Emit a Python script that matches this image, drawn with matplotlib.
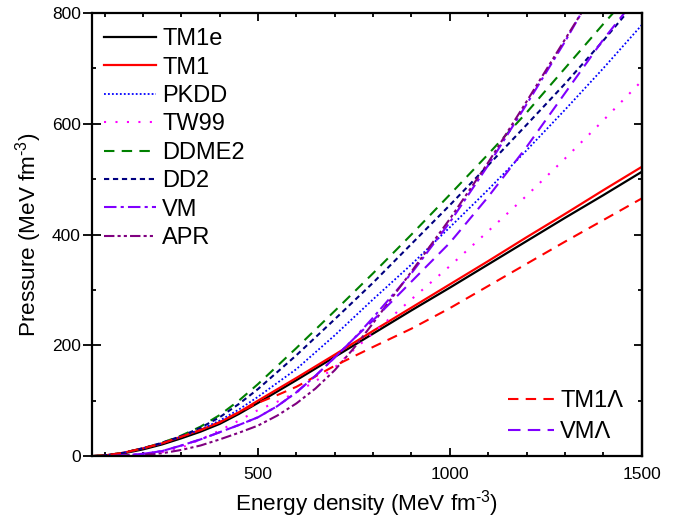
import matplotlib
matplotlib.use("Agg")
import matplotlib.pyplot as plt
from matplotlib.ticker import MultipleLocator

plt.rcParams['font.family'] = ['Liberation Sans', 'DejaVu Sans']
plt.rcParams['mathtext.fontset'] = 'custom'
plt.rcParams['mathtext.rm'] = 'Liberation Sans'
plt.rcParams['mathtext.it'] = 'Liberation Sans:italic'
plt.rcParams['mathtext.bf'] = 'Liberation Sans:bold'

# ---- data ----
tm1e_e = [70, 100, 150, 200, 250, 300, 350, 400, 450, 500, 600, 700, 800, 900, 1000, 1100, 1200, 1300, 1400, 1500]
tm1e_p = [0, 1, 5, 12, 21, 32, 44, 58, 76, 96, 137, 179, 221, 263, 304, 346, 388, 430, 471, 513]

tm1_e = [70, 100, 150, 200, 250, 300, 350, 400, 450, 500, 600, 700, 800, 900, 1000, 1100, 1200, 1300, 1400, 1500]
tm1_p = [0, 1, 6, 14, 23, 35, 47, 61, 79, 100, 141, 183, 226, 268, 310, 352, 395, 437, 480, 522]

pkdd_e = [70, 100, 150, 200, 250, 300, 350, 400, 450, 500, 600, 700, 800, 900, 1000, 1100, 1200, 1300, 1400, 1500]
pkdd_p = [0, 1, 6, 14, 23, 35, 48, 64, 84, 107, 157, 218, 283, 346, 413, 481, 552, 625, 700, 778]

tw99_e = [70, 100, 150, 200, 250, 300, 350, 400, 450, 500, 550, 600, 650, 700, 750, 800, 900, 1000, 1100, 1200, 1300, 1400, 1500]
tw99_p = [0, 0, 1, 3, 7, 15, 30, 46, 64, 83, 98, 115, 135, 160, 192, 222, 283, 343, 406, 470, 537, 606, 677]

ddme2_e = [70, 100, 150, 200, 250, 300, 350, 400, 450, 500, 600, 700, 800, 900, 1000, 1100, 1200, 1300, 1400, 1426]
ddme2_p = [0, 1, 6, 14, 24, 37, 53, 74, 100, 130, 195, 262, 330, 400, 472, 545, 620, 700, 780, 800]

dd2_e = [70, 100, 150, 200, 250, 300, 350, 400, 450, 500, 600, 700, 800, 900, 1000, 1100, 1200, 1300, 1400, 1461]
dd2_p = [0, 1, 6, 14, 24, 36, 51, 70, 94, 121, 182, 247, 313, 383, 453, 525, 598, 672, 750, 800]

vm_e = [70, 100, 150, 200, 250, 300, 350, 400, 450, 500, 550, 600, 650, 700, 750, 800, 900, 1000, 1100, 1200, 1300, 1343]
vm_p = [0, 0, 1, 4, 9, 19, 30, 43, 56, 70, 90, 115, 145, 178, 212, 250, 330, 422, 525, 635, 748, 800]

apr_e = [70, 100, 150, 200, 250, 300, 350, 400, 450, 500, 550, 600, 650, 700, 750, 800, 900, 1000, 1100, 1200, 1300, 1343]
apr_p = [0, 0, 1, 2, 5, 11, 19, 30, 42, 55, 73, 95, 122, 155, 195, 240, 333, 428, 530, 640, 752, 800]

tm1l_e = [70, 100, 150, 200, 250, 300, 350, 400, 450, 500, 550, 600, 700, 800, 900, 1000, 1100, 1200, 1300, 1400, 1500]
tm1l_p = [0, 1, 6, 14, 23, 35, 47, 61, 79, 96, 110, 125, 163, 197, 230, 267, 307, 347, 387, 426, 465]

vml_e = [70, 100, 150, 200, 250, 300, 350, 400, 450, 500, 550, 600, 650, 700, 750, 800, 900, 1000, 1100, 1200, 1300, 1400, 1455]
vml_p = [0, 0, 1, 4, 9, 19, 30, 43, 56, 70, 90, 115, 145, 178, 212, 245, 315, 385, 468, 558, 655, 752, 800]

x_ticks = [500, 1000, 1500]
y_ticks = [0, 200, 400, 600, 800]

fig = plt.figure(figsize=(6.94, 5.20), dpi=100)
ax = fig.add_axes([0.133, 0.123, 0.7915, 0.852])

l1, = ax.plot(tm1e_e, tm1e_p, color='black', lw=1.6, ls='-', label='TM1e')
l2, = ax.plot(tm1_e, tm1_p, color='#ff0000', lw=1.6, ls='-', label='TM1')
l3, = ax.plot(pkdd_e, pkdd_p, color='#0000ff', lw=1.3, ls=(0, (1, 1.2)), label='PKDD')
l4, = ax.plot(tw99_e, tw99_p, color='#ff00ff', lw=1.5, ls=(0, (1, 4.5)), label='TW99')
l5, = ax.plot(ddme2_e, ddme2_p, color='#008000', lw=1.5, ls=(0, (5, 3.5)), label='DDME2')
l6, = ax.plot(dd2_e, dd2_p, color='#000080', lw=1.5, ls=(0, (2.5, 1.8)), label='DD2')
l7, = ax.plot(vm_e, vm_p, color='#8000ff', lw=1.5, ls=(0, (6, 2, 1.5, 2)), label='VM')
l8, = ax.plot(apr_e, apr_p, color='#800080', lw=1.5, ls=(0, (5, 1.5, 1.5, 1.5, 1.5, 1.5)), label='APR')
l9, = ax.plot(tm1l_e, tm1l_p, color='#ff0000', lw=1.5, ls=(0, (5, 3.5)), label='TM1Λ')
l10, = ax.plot(vml_e, vml_p, color='#8000ff', lw=1.5, ls=(0, (6, 3.5)), label='VMΛ')

ax.set_xlim(68, 1500)
ax.set_ylim(0, 800)
ax.set_xticks(x_ticks)
ax.set_yticks(y_ticks)
ax.xaxis.set_minor_locator(MultipleLocator(100))
ax.yaxis.set_minor_locator(MultipleLocator(100))
ax.tick_params(axis='x', which='both', direction='in', top=True, bottom=True, width=1.3, labelsize=12.5, pad=8)
ax.tick_params(axis='x', which='major', length=6)
ax.tick_params(axis='x', which='minor', length=3)
ax.tick_params(axis='y', which='major', direction='inout', left=True, right=False, width=1.3,
               length=12.5, labelsize=12.5, pad=2)
ax.tick_params(axis='y', which='minor', direction='in', left=True, right=False, width=1.3, length=3)

sec = ax.secondary_yaxis('right')
sec.set_yticks(y_ticks)
sec.yaxis.set_minor_locator(MultipleLocator(100))
sec.tick_params(axis='y', which='both', direction='in', width=1.3, labelright=False)
sec.tick_params(axis='y', which='major', length=6)
sec.tick_params(axis='y', which='minor', length=3)
sec.spines['right'].set_linewidth(1.6)

for s in ax.spines.values():
    s.set_linewidth(1.6)

ax.set_xlabel('Energy density (MeV fm$^{\\text{-}3}$)', fontsize=16.2, labelpad=4.5)
ax.set_ylabel('Pressure (MeV fm$^{\\text{-}3}$)', fontsize=16.2, labelpad=6)

leg1 = ax.legend(handles=[l1, l2, l3, l4, l5, l6, l7, l8], loc='upper left', frameon=False,
                 fontsize=17, handlelength=2.2, handletextpad=0.25, labelspacing=0.27,
                 borderaxespad=0.2, borderpad=0.45, bbox_to_anchor=(-0.006, 1.0))
ax.add_artist(leg1)
ax.legend(handles=[l9, l10], loc='lower right', frameon=False, fontsize=17,
          handlelength=1.95, handletextpad=0.25, labelspacing=0.38,
          borderaxespad=0.25, borderpad=0.3, bbox_to_anchor=(0.99, 0.0))

fig.savefig('out.png', dpi=100)
